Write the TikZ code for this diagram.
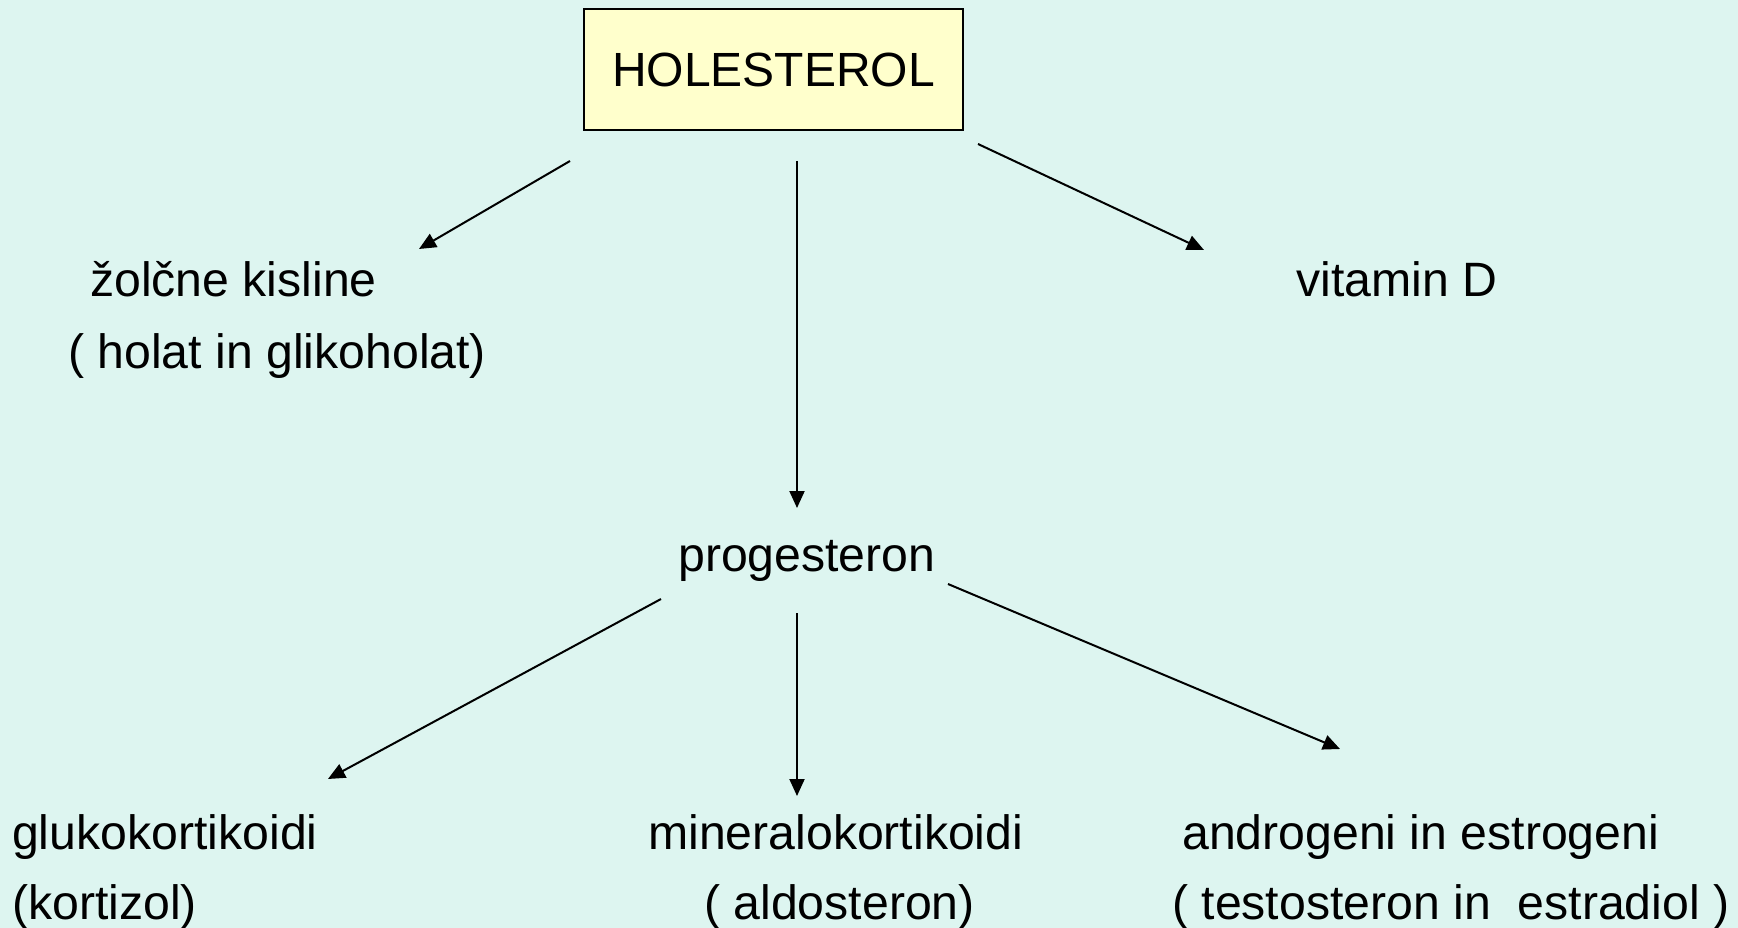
\documentclass[tikz,border=0pt]{standalone}
\usepackage{fontspec}
\setmainfont{Liberation Sans}
\usetikzlibrary{arrows.meta}
\definecolor{bgmint}{RGB}{221,245,240}
\definecolor{boxyellow}{RGB}{255,255,204}
\tikzset{
  label/.style={anchor=base west, inner sep=0pt, font=\fontsize{48.2}{58}\selectfont},
  flow/.style={line width=2pt, -{Triangle[length=17pt,width=15pt]}},
  topbox/.style={draw=black, line width=2pt, fill=boxyellow, minimum width=379pt,
    minimum height=121pt, inner sep=0pt, font=\fontsize{48}{58}\selectfont}
}
\begin{document}
\begin{tikzpicture}[x=1pt, y=-1pt]
  % canvas
  \fill[bgmint] (0,0) rectangle (1738,928);
  \useasboundingbox (0,0) rectangle (1738,928);

  % nodes
  \node[topbox] (hol) at (773.5,69.5) {HOLESTEROL};

  \node[label] (zk1) at (90,296) {žolčne kisline};
  \node[label] (zk2) at (68,368) {( holat in glikoholat)};
  \node[label] (vitd) at (1296,296) {vitamin D};
  \node[label] (prog) at (678,571) {progesteron};
  \node[label] (glu1) at (12,849) {glukokortikoidi};
  \node[label] (glu2) at (12,919) {(kortizol)};
  \node[label] (min1) at (648,849) {mineralokortikoidi};
  \node[label] (min2) at (704,919) {( aldosteron)};
  \node[label] (and1) at (1182,849) {androgeni in estrogeni};
  \node[label] (and2) at (1172,919) {( testosteron in\ \ estradiol )};

  % connector end points
  \coordinate (hA) at (570,161);  \coordinate (zkA) at (419,249);
  \coordinate (hB) at (797,161);  \coordinate (prB) at (797,508);
  \coordinate (hC) at (978,144);  \coordinate (vdC) at (1204,250);
  \coordinate (pA) at (661,599);  \coordinate (glA) at (328,779);
  \coordinate (pB) at (797,613);  \coordinate (miB) at (797,796);
  \coordinate (pC) at (948,584);  \coordinate (anC) at (1340,749);

  % connectors
  \draw[flow] (hA) -- (zkA);
  \draw[flow] (hB) -- (prB);
  \draw[flow] (hC) -- (vdC);
  \draw[flow] (pA) -- (glA);
  \draw[flow] (pB) -- (miB);
  \draw[flow] (pC) -- (anC);
\end{tikzpicture}
\end{document}
